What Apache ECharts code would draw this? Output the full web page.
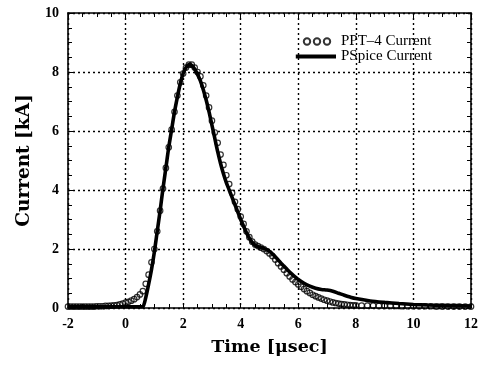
<!DOCTYPE html>
<html>
<head>
<meta charset="utf-8">
<script src="https://cdn.jsdelivr.net/npm/echarts@6/dist/echarts.min.js"></script>
<style>html,body{margin:0;padding:0;background:#fff;}#c{width:483px;height:369px;}</style>
</head>
<body>
<div id="c"></div>
<script>
// PPT-4 measured current: time [μsec], current [kA]
const pptTime = [-2.0,-1.9,-1.8,-1.7,-1.6,-1.5,-1.4,-1.3,-1.2,-1.1,-1.0,-0.9,-0.8,-0.7,-0.6,-0.5,-0.4,-0.3,-0.2,-0.1,
  0.0,0.1,0.2,0.3,0.4,0.5,0.6,0.7,0.8,0.9,1.0,1.1,1.2,1.3,1.4,1.5,1.6,1.7,1.8,1.9,
  2.0,2.1,2.2,2.3,2.4,2.5,2.6,2.7,2.8,2.9,3.0,3.1,3.2,3.3,3.4,3.5,3.6,3.7,3.8,3.9,
  4.0,4.1,4.2,4.3,4.4,4.5,4.6,4.7,4.8,4.9,5.0,5.1,5.2,5.3,5.4,5.5,5.6,5.7,5.8,5.9,
  6.0,6.1,6.2,6.3,6.4,6.5,6.6,6.7,6.8,6.9,7.0,7.1,7.2,7.3,7.4,7.5,7.6,7.7,7.8,7.9,
  8.0,8.2,8.4,8.6,8.8,9.0,9.2,9.4,9.6,9.8,10.0,10.2,10.4,10.6,10.8,11.0,11.2,11.4,11.6,11.8,12.0];
const pptCurrent = [0.05,0.05,0.05,0.05,0.05,0.05,0.05,0.05,0.05,0.05,0.06,0.06,0.06,0.07,0.07,0.08,0.09,0.10,0.12,0.15,
  0.18,0.21,0.25,0.30,0.37,0.46,0.57,0.82,1.13,1.55,2.00,2.60,3.30,4.05,4.75,5.45,6.05,6.65,7.20,7.65,
  7.95,8.15,8.25,8.25,8.15,8.00,7.85,7.55,7.20,6.80,6.35,5.95,5.60,5.20,4.85,4.50,4.20,3.90,3.60,3.35,
  3.10,2.85,2.60,2.40,2.25,2.15,2.10,2.05,2.00,1.93,1.85,1.76,1.64,1.52,1.41,1.30,1.18,1.07,0.97,0.88,
  0.80,0.72,0.64,0.57,0.51,0.45,0.40,0.36,0.32,0.28,0.25,0.22,0.19,0.17,0.15,0.13,0.12,0.11,0.10,0.09,
  0.09,0.08,0.08,0.08,0.07,0.07,0.07,0.07,0.06,0.06,0.06,0.06,0.06,0.06,0.05,0.05,0.05,0.05,0.05,0.05,0.05];

// PSpice simulated current
const spiceTime = [-2.0,0.5,0.6,0.7,0.8,0.9,1.0,1.1,1.2,1.3,1.4,1.5,1.6,1.7,1.8,1.9,2.0,2.1,2.2,2.3,2.4,2.5,2.6,2.7,2.8,2.9,
  3.0,3.1,3.2,3.3,3.4,3.5,3.6,3.7,3.8,3.9,4.0,4.1,4.2,4.3,4.4,4.5,4.6,4.7,4.8,4.9,5.0,5.1,5.2,5.3,5.4,5.5,5.6,5.7,5.8,5.9,
  6.0,6.2,6.4,6.6,6.8,7.0,7.2,7.4,7.6,7.8,8.0,8.5,9.0,9.5,10.0,10.5,11.0,11.5,12.0];
const spiceCurrent = [0.04,0.04,0.05,0.35,0.80,1.30,1.90,2.60,3.30,4.05,4.75,5.45,6.05,6.65,7.15,7.60,7.95,8.15,8.25,8.22,8.10,7.92,7.70,7.40,7.05,6.65,
  6.20,5.75,5.30,4.90,4.55,4.25,4.00,3.75,3.50,3.25,3.00,2.77,2.55,2.37,2.22,2.13,2.08,2.05,2.02,1.98,1.92,1.84,1.74,1.63,1.52,1.42,1.32,1.22,1.13,1.05,
  0.97,0.84,0.74,0.67,0.63,0.61,0.57,0.50,0.43,0.37,0.32,0.24,0.19,0.15,0.12,0.10,0.09,0.08,0.07];

const seriesNames = ['PPT\u20134 Current', 'PSpice Current'];
const xLabel = 'Time [\u03bcsec]';
const yLabel = 'Current [kA]';

const serif = '"Liberation Serif", "DejaVu Serif", serif';
const wideSerif = '"DejaVu Serif", "Liberation Serif", serif';
const pptData = pptTime.map((t, i) => [t, pptCurrent[i]]);
const spiceData = spiceTime.map((t, i) => [t, spiceCurrent[i]]);

const tickStyle = { show: true, inside: true, length: 5, lineStyle: { color: '#000', width: 1 } };
const minorStyle = { show: true, splitNumber: 4, length: 4, lineStyle: { color: '#000', width: 1 } };
const lineAxis = { show: true, onZero: false, lineStyle: { color: '#000', width: 1.6 } };
const gridLine = { show: true, lineStyle: { color: '#000', width: 1.4, type: [2, 3] } };
const labelStyle = { color: '#000', fontFamily: serif, fontWeight: 'bold', fontSize: 14 };

const chart = echarts.init(document.getElementById('c'), null, { renderer: 'canvas' });
chart.setOption({
  animation: false,
  backgroundColor: '#fff',
  grid: { left: 68, right: 12, top: 13, bottom: 61, containLabel: false },
  legend: {
    orient: 'vertical',
    left: 290, top: 34,
    padding: 0,
    itemWidth: 45, itemHeight: 8, itemGap: 0,
    symbolKeepAspect: true,
    textStyle: { color: '#000', fontFamily: serif, fontSize: 15, lineHeight: 14 },
    data: [
      { name: seriesNames[0], icon: 'path://M0,0M45,8M12.8,4a3.2,3.2 0 1,1 6.4,0a3.2,3.2 0 1,1 -6.4,0zM22.8,4a3.2,3.2 0 1,1 6.4,0a3.2,3.2 0 1,1 -6.4,0zM32.8,4a3.2,3.2 0 1,1 6.4,0a3.2,3.2 0 1,1 -6.4,0z' },
      { name: seriesNames[1], icon: 'path://M0,0M45,8M5,2h42v4h-42z' }
    ]
  },
  xAxis: [{
    type: 'value', min: -2, max: 12, interval: 2, position: 'bottom',
    name: xLabel, nameLocation: 'middle', nameGap: 30,
    nameTextStyle: { color: '#000', fontFamily: wideSerif, fontWeight: 'bold', fontSize: 17.5 },
    axisLine: lineAxis, axisTick: tickStyle, minorTick: minorStyle,
    splitLine: gridLine,
    axisLabel: Object.assign({ margin: 9 }, labelStyle)
  }, {
    type: 'value', min: -2, max: 12, interval: 2, position: 'top',
    axisLine: lineAxis, axisTick: tickStyle, minorTick: minorStyle,
    splitLine: { show: false }, axisLabel: { show: false }
  }],
  yAxis: [{
    type: 'value', min: 0, max: 10, interval: 2, position: 'left',
    name: yLabel, nameLocation: 'middle', nameGap: 34,
    nameTextStyle: { color: '#000', fontFamily: wideSerif, fontWeight: 'bold', fontSize: 18.5 },
    axisLine: lineAxis, axisTick: tickStyle, minorTick: minorStyle,
    splitLine: gridLine,
    axisLabel: Object.assign({ margin: 9 }, labelStyle)
  }, {
    type: 'value', min: 0, max: 10, interval: 2, position: 'right',
    axisLine: lineAxis, axisTick: tickStyle, minorTick: minorStyle,
    splitLine: { show: false }, axisLabel: { show: false }
  }],
  series: [{
    name: seriesNames[0],
    type: 'scatter',
    data: pptData,
    symbol: 'circle',
    symbolSize: 5.5,
    z: 2,
    itemStyle: { color: 'rgba(255,255,255,0)', borderColor: '#000', borderWidth: 1.2 }
  }, {
    name: seriesNames[1],
    type: 'line',
    data: spiceData,
    showSymbol: false,
    symbol: 'none',
    smooth: 0.3,
    z: 3,
    itemStyle: { color: '#000' },
    lineStyle: { color: '#000', width: 3.6 }
  }]
});
</script>
</body>
</html>
